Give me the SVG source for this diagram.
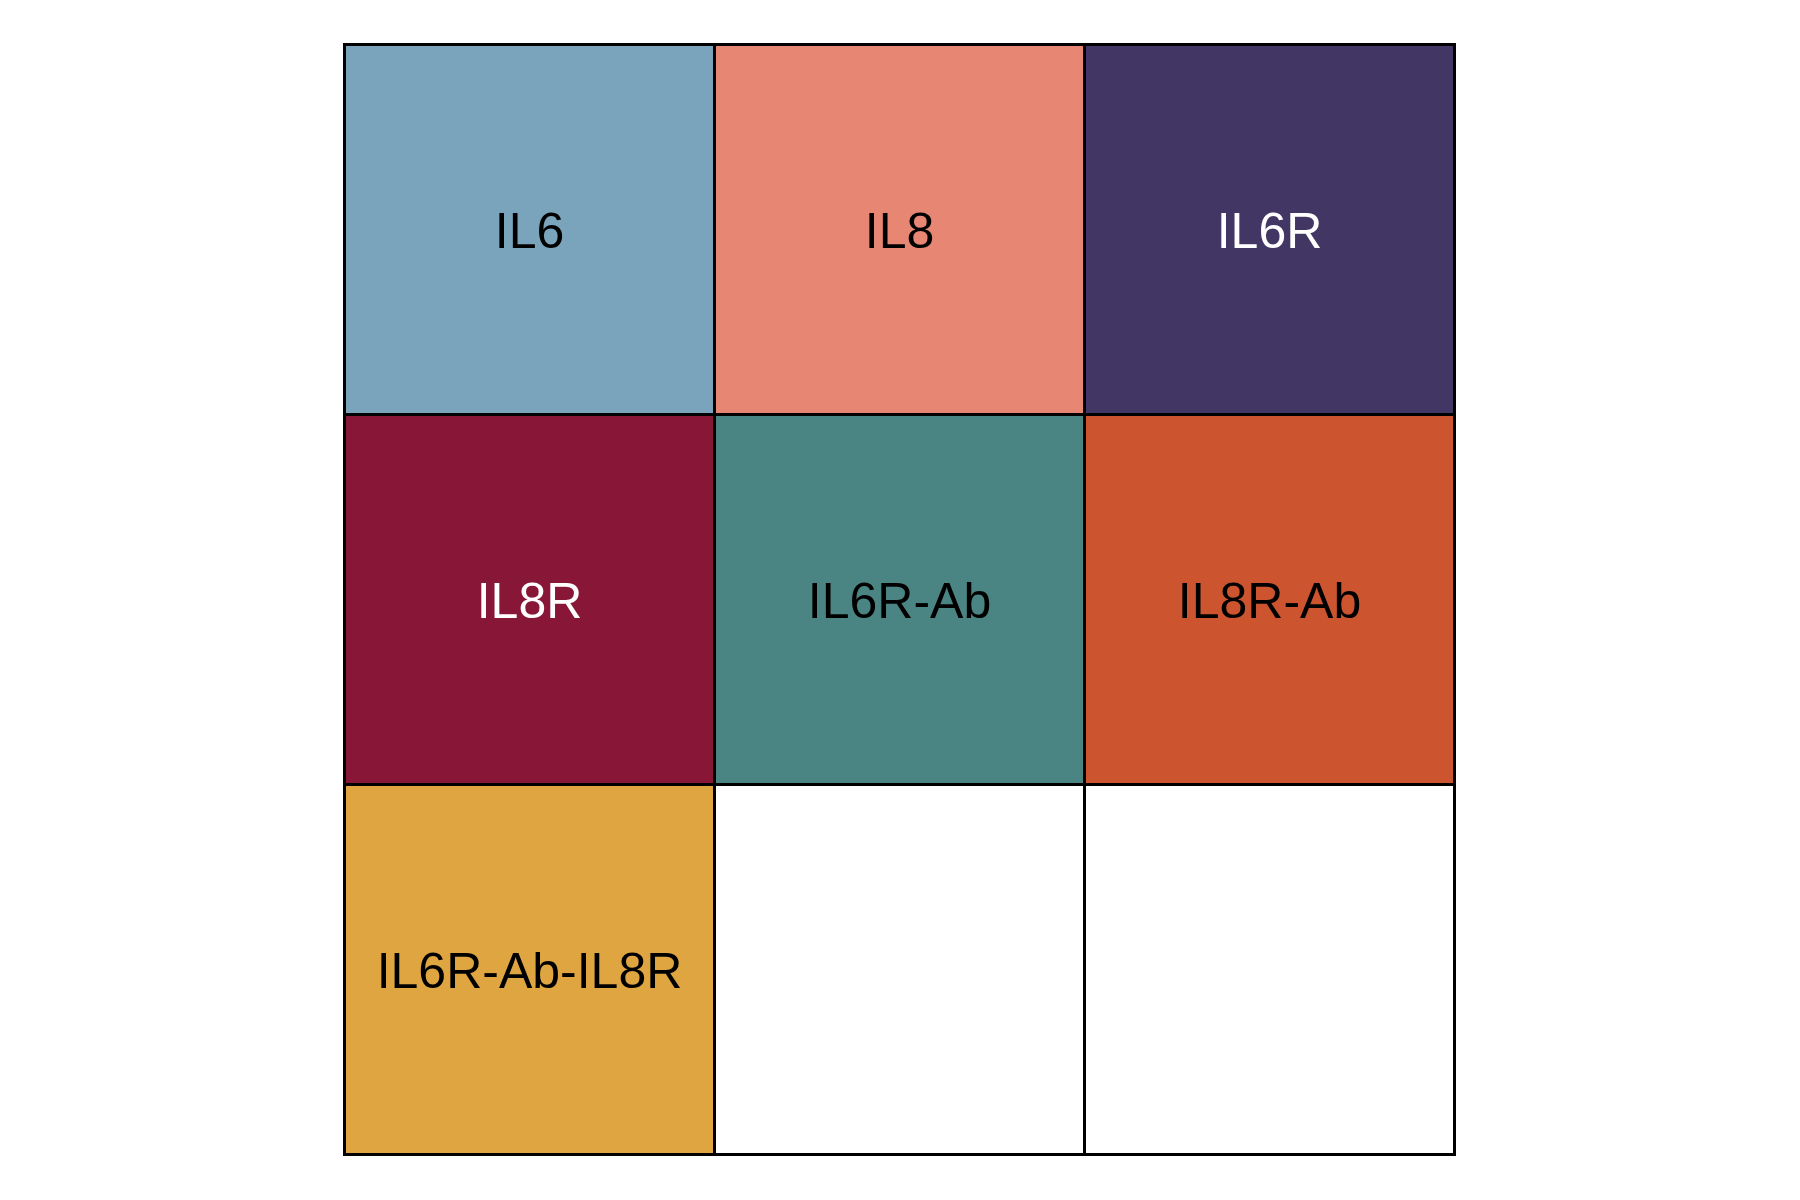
<svg xmlns="http://www.w3.org/2000/svg" width="1800" height="1200" viewBox="0 0 1800 1200">
<style>
.c{stroke:#000;stroke-width:3}
.t{font-family:"Liberation Sans",Arial,sans-serif;font-size:50px;text-anchor:middle}
.w{fill:#fff}
.k{fill:#000}
</style>
<rect width="1800" height="1200" fill="#fff"/>
<g id="IL6"><rect class="c" x="344.5" y="44.5" width="370" height="370" fill="#7AA4BB"/><text class="t k" x="529.5" y="247.5">IL6</text></g>
<g id="IL8"><rect class="c" x="714.5" y="44.5" width="370" height="370" fill="#E68673"/><text class="t k" x="899.5" y="247.5">IL8</text></g>
<g id="IL6R"><rect class="c" x="1084.5" y="44.5" width="370" height="370" fill="#423764"/><text class="t w" x="1269.5" y="247.5">IL6R</text></g>
<g id="IL8R"><rect class="c" x="344.5" y="414.5" width="370" height="370" fill="#881637"/><text class="t w" x="529.5" y="617.5">IL8R</text></g>
<g id="IL6R-Ab"><rect class="c" x="714.5" y="414.5" width="370" height="370" fill="#4A8583"/><text class="t k" x="899.5" y="617.5">IL6R-Ab</text></g>
<g id="IL8R-Ab"><rect class="c" x="1084.5" y="414.5" width="370" height="370" fill="#CC552F"/><text class="t k" x="1269.5" y="617.5">IL8R-Ab</text></g>
<g id="IL6R-Ab-IL8R"><rect class="c" x="344.5" y="784.5" width="370" height="370" fill="#DFA540"/><text class="t k" x="529.5" y="987.5">IL6R-Ab-IL8R</text></g>
<g id="empty1"><rect class="c" x="714.5" y="784.5" width="370" height="370" fill="#fff"/></g>
<g id="empty2"><rect class="c" x="1084.5" y="784.5" width="370" height="370" fill="#fff"/></g>
<g id="connectors"></g>
</svg>
